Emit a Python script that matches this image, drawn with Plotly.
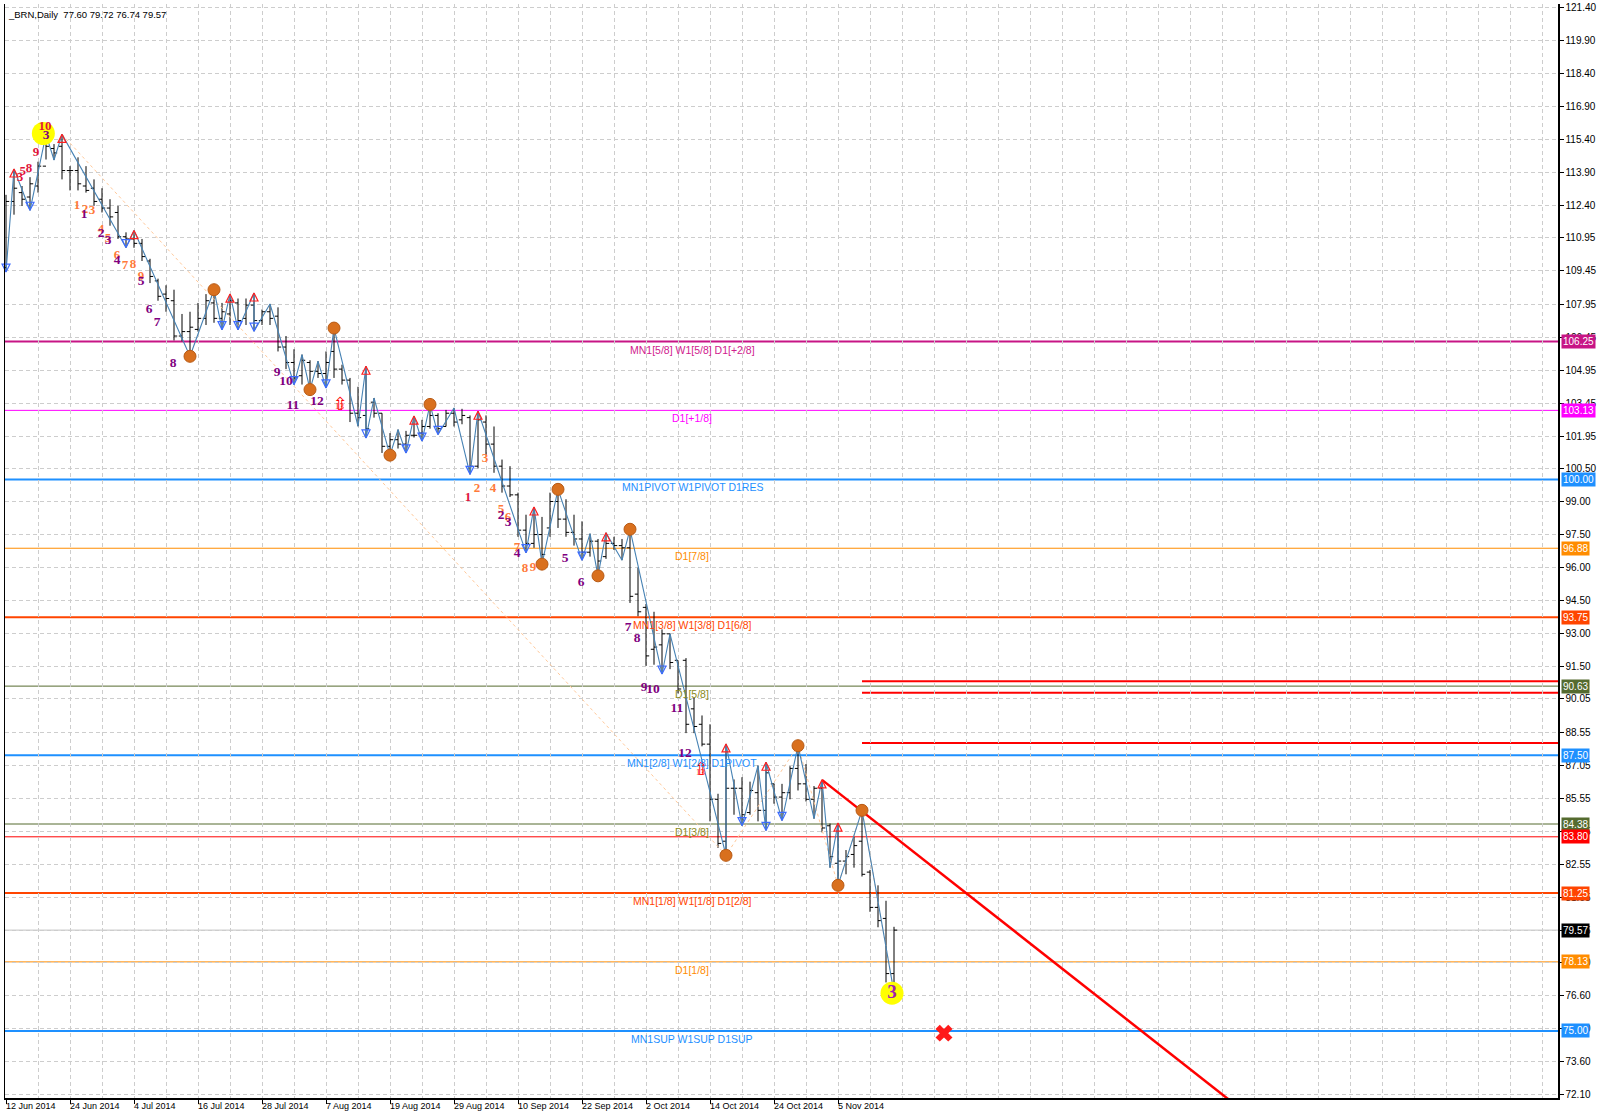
import plotly.graph_objects as go

# ---------------- data ----------------
opens = [109.6,112.6,113.0,112.8,113.3,114.2,115.0,115.1,114.0,114.0,
         113.3,113.2,112.7,112.3,112.1,111.0,110.9,110.7,109.9,109.0,
         108.4,108.1,106.5,106.7,106.8,107.3,108.0,107.3,107.5,108.0,
         107.3,107.9,107.2,107.6,107.4,106.0,105.3,104.7,105.3,104.9,
         104.8,105.8,105.0,104.5,103.0,102.9,103.5,103.0,101.5,101.8,
         101.6,102.0,102.1,102.4,102.9,102.4,103.0,102.7,102.8,100.6,
         102.6,101.6,100.6,99.7,99.3,97.7,97.1,97.5,97.8,99.0,
         98.2,97.6,97.3,96.7,97.2,96.5,97.1,97.0,96.9,94.8,
         94.2,92.3,92.5,93.0,91.8,91.8,89.6,88.9,88.0,85.5,
         83.6,86.0,86.0,84.9,85.8,85.0,86.2,85.6,85.8,86.9,
         86.2,85.5,86.0,84.3,82.6,82.7,83.0,83.6,82.2,80.6,
         80.1,77.60]
highs = [112.9,114.07,113.3,113.7,114.4,115.64,115.2,115.64,114.2,114.6,
         114.2,113.6,113.2,112.7,112.4,111.2,111.28,110.9,110.0,109.1,
         108.8,108.6,107.5,107.6,108.0,108.4,108.6,108.0,108.4,108.2,
         108.2,108.45,107.7,107.95,107.8,106.5,105.9,105.66,105.4,105.36,
         105.8,106.86,105.2,104.6,104.2,105.13,103.69,103.0,102.1,102.26,
         102.2,102.87,102.7,103.4,103.0,103.15,103.24,103.2,102.9,103.09,
         102.9,102.4,100.9,100.6,99.4,98.4,98.75,98.3,99.4,99.55,
         99.1,98.4,98.1,97.54,97.3,97.58,97.4,97.3,97.74,96.0,
         94.35,94.0,93.2,93.0,91.8,91.9,90.1,89.3,88.9,85.75,
         88.01,86.4,86.5,86.3,87.03,87.18,86.2,86.2,87.0,87.93,
         87.1,86.1,86.38,84.4,84.42,83.2,83.8,85.0,82.3,81.6,
         80.9,79.72]
lows = [109.4,112.0,112.4,112.2,113.0,114.5,114.48,113.6,113.1,113.1,
        113.0,112.4,112.1,111.5,110.9,110.51,110.5,109.9,108.9,108.1,
        107.6,106.3,106.26,105.58,106.7,107.0,107.1,106.79,107.0,106.79,
        107.0,106.72,107.0,107.0,105.8,105.0,104.3,104.3,104.07,104.6,
        104.15,104.6,104.3,102.6,102.41,101.88,102.8,101.2,101.1,101.4,
        101.2,101.9,101.74,102.3,102.04,102.4,102.4,102.5,100.23,100.5,
        101.1,100.3,99.4,99.2,97.4,96.68,96.9,96.16,97.4,97.8,
        97.4,97.0,96.34,96.5,95.63,96.4,96.8,96.34,94.4,93.8,
        91.55,91.6,91.18,91.4,90.3,88.5,88.5,87.9,84.5,83.3,
        82.96,84.8,84.31,84.8,84.5,84.09,85.3,84.54,85.5,85.9,
        85.4,84.62,84.0,82.4,81.6,82.1,82.4,82.0,80.4,79.7,
        77.2,76.74]
closes = [112.6,113.2,112.7,113.4,114.2,115.1,114.8,114.0,114.0,113.4,
          113.1,112.6,112.3,111.9,111.0,110.9,110.7,110.1,109.2,108.3,
          108.2,106.5,106.7,106.9,107.3,108.1,107.3,107.6,108.1,107.2,
          107.9,107.2,107.6,107.3,106.0,105.3,104.6,105.4,104.9,104.8,
          105.3,105.0,104.5,103.0,102.8,102.3,103.0,101.5,101.8,101.6,
          102.0,102.0,102.4,102.9,102.3,103.0,102.6,102.9,100.6,102.7,
          101.6,100.6,99.7,99.3,97.7,97.1,97.5,96.6,99.0,98.2,
          97.6,97.3,96.7,97.2,96.3,97.1,97.0,96.9,94.7,94.0,
          92.0,92.4,93.0,91.7,90.5,88.9,88.8,88.0,85.5,83.5,
          86.0,86.0,84.8,85.9,85.0,86.7,85.6,85.8,86.9,86.2,
          85.5,86.0,84.2,82.9,82.7,82.9,83.4,82.1,80.6,80.0,
          77.6,79.57]
bar_idx = list(range(len(opens)))

date_bars = [0, 8, 16, 24, 32, 40, 48, 56, 64, 72, 80, 88, 96, 104]
date_labels = ["12 Jun 2014", "24 Jun 2014", "4 Jul 2014", "16 Jul 2014", "28 Jul 2014",
               "7 Aug 2014", "19 Aug 2014", "29 Aug 2014", "10 Sep 2014", "22 Sep 2014",
               "2 Oct 2014", "14 Oct 2014", "24 Oct 2014", "5 Nov 2014"]

price_ticks = [121.40, 119.90, 118.40, 116.90, 115.40, 113.90, 112.40, 110.95, 109.45, 107.95,
               106.45, 104.95, 103.45, 101.95, 100.50, 99.00, 97.50, 96.00, 94.50, 93.00,
               91.50, 90.05, 88.55, 87.05, 85.55, 84.05, 82.55, 81.05, 79.55, 78.10,
               76.60, 75.10, 73.60, 72.10]

level_prices = [106.25, 103.13, 100.00, 96.88, 93.75, 90.63, 87.50, 84.38, 83.80, 81.25, 79.57, 78.13, 75.00]
level_names = ["MN1[5/8] W1[5/8] D1[+2/8]", "D1[+1/8]", "MN1PIVOT W1PIVOT D1RES", "D1[7/8]",
               "MN1[3/8] W1[3/8] D1[6/8]", "D1[5/8]", "MN1[2/8] W1[2/8] D1PIVOT", "D1[3/8]", "",
               "MN1[1/8] W1[1/8] D1[2/8]", "", "D1[1/8]", "MN1SUP W1SUP D1SUP"]

zz_bars = [0,1,3,5,6,7,15,16,23,26,27,28,29,31,31,33,36,37,38,39,40,41,44,45,45,46,48,49,50,51,52,53,54,56,58,59,
           65,66,67,69,72,73,74,75,77,78,82,83,90,90,92,94,95,95,97,99,101,102,103,104,104,107,111]
zz_prices = [109.4,114.07,112.2,115.64,114.48,115.64,110.51,111.28,105.58,108.6,106.79,108.4,106.79,108.45,106.72,
             107.95,104.3,105.66,104.07,105.36,104.15,106.86,102.41,105.13,101.88,103.69,101.1,102.26,101.2,102.87,
             101.74,103.4,102.04,103.24,100.23,103.09,96.68,98.75,96.16,99.55,96.34,97.54,95.63,97.58,96.34,97.74,
             91.18,93.0,82.96,88.01,84.31,87.03,84.09,87.18,84.54,87.93,84.62,86.38,82.4,84.42,81.6,85.0,76.74]

up_arrow_bars = [1, 7, 16, 28, 31, 45, 51, 59, 66, 75, 90, 95, 102, 104]
down_arrow_bars = [0, 3, 15, 27, 29, 31, 36, 40, 45, 50, 52, 54, 58, 65, 72, 82, 92, 95, 97]

swing_bars = [23, 26, 38, 41, 48, 53, 67, 69, 74, 78, 90, 99, 104, 107]
swing_kind = ["L", "H", "L", "H", "L", "H", "L", "H", "L", "H", "L", "H", "L", "H"]

major_bars = [7, 90, 99, 104, 107, 111]
major_kind = ["H", "L", "H", "L", "H", "L"]

trend_bars = [102, 160]
trend_prices = [86.38, 69.85]

res_bars_start = 107
res_prices = [90.85, 90.33, 88.05]

target_bar, target_price = 117.25, 74.9
yellow_bars = [4.67, 110.75]
yellow_prices = [115.68, 76.71]

red_counts = [(4.875, 115.99, "10"), (3.75, 114.81, "9"), (2.875, 114.09, "8"), (1.75, 113.68, "3"),
              (2.1, 113.95, "5"), (57.75, 99.16, "1")]
orange_counts = [(8.875, 112.41, "1"), (9.875, 112.23, "2"), (10.75, 112.19, "3"), (11.875, 111.33, "4"),
                 (12.75, 110.92, "5"), (13.875, 110.15, "6"), (14.875, 109.70, "7"), (15.875, 109.74, "8"),
                 (16.875, 109.2, "9"), (59.875, 100.92, "3"), (58.875, 99.56, "2"), (60.875, 99.56, "4"),
                 (61.875, 98.61, "5"), (62.75, 98.25, "6"), (63.875, 96.89, "7"), (64.875, 95.94, "8"),
                 (65.875, 95.99, "9")]
purple_counts = [(5.0, 115.58, "3"), (9.75, 112.01, "1"), (11.875, 111.15, "2"), (12.75, 110.83, "3"),
                 (13.875, 109.92, "4"), (16.875, 108.97, "5"), (17.875, 107.71, "6"), (18.875, 107.12, "7"),
                 (20.875, 105.26, "8"), (33.875, 104.86, "9"), (35.0, 104.45, "10"), (35.875, 103.36, "11"),
                 (38.875, 103.54, "12"), (61.875, 98.34, "2"), (62.75, 98.02, "3"), (63.875, 96.62, "4"),
                 (69.875, 96.4, "5"), (71.875, 95.31, "6"), (77.75, 93.27, "7"), (78.875, 92.78, "8"),
                 (79.75, 90.56, "9"), (80.875, 90.47, "10"), (83.875, 89.61, "11"), (84.875, 87.57, "12")]
big_counts = [(110.75, 76.71, "3")]
arrow13 = [(41.75, 103.45), (86.875, 86.89)]

header = "_BRN,Daily  77.60 79.72 76.74 79.57"

# ---------------- styles ----------------
level_style = {
    106.25: ("#C71585", 2, "#D0208E"),
    103.13: ("#FF00FF", 1, "#FF00FF"),
    100.00: ("#1E90FF", 2, "#1E90FF"),
    96.88: ("#FF8C00", 1, "#FF8C00"),
    93.75: ("#FF4500", 2, "#FF4500"),
    90.63: ("#556B2F", 1, "#8A8A20"),
    87.50: ("#1E90FF", 2, "#1E90FF"),
    84.38: ("#556B2F", 1, "#8A8A20"),
    83.80: ("#FF0000", 1, "#FF0000"),
    81.25: ("#FF4500", 2, "#FF4500"),
    79.57: ("#C0C0C0", 1, "#000000"),
    78.13: ("#FF8C00", 1, "#FF8C00"),
    75.00: ("#1E90FF", 2, "#1E90FF"),
}
tag_bg = {79.57: "#000000"}

X0, X1 = -0.125, 194.0
Y0, Y1 = 71.96, 121.55
GRID = "#CDCDCD"

fig = go.Figure()

shapes = []
for p in level_prices:
    col, w, _ = level_style[p]
    shapes.append(dict(type="line", xref="paper", x0=0, x1=1, yref="y", y0=p, y1=p,
                       line=dict(color=col, width=w), layer="below"))
for p in res_prices:
    shapes.append(dict(type="line", xref="x", x0=res_bars_start, x1=X1, yref="y", y0=p, y1=p,
                       line=dict(color="#FF0000", width=2), layer="below"))

# faint dotted higher-degree swing line
mp = [highs[b] if k == "H" else lows[b] for b, k in zip(major_bars, major_kind)]
fig.add_trace(go.Scatter(x=major_bars, y=mp, mode="lines",
                         line=dict(color="#FFC99A", width=1, dash="dot"), hoverinfo="skip"))

# OHLC bars
fig.add_trace(go.Ohlc(x=bar_idx, open=opens, high=highs, low=lows, close=closes,
                      increasing=dict(line=dict(color="black", width=1)),
                      decreasing=dict(line=dict(color="black", width=1)),
                      tickwidth=0.4, hoverinfo="skip"))

# zigzag
fig.add_trace(go.Scatter(x=zz_bars, y=zz_prices, mode="lines",
                         line=dict(color="#4682B4", width=1.1), hoverinfo="skip"))

# red trend line
fig.add_trace(go.Scatter(x=trend_bars, y=trend_prices, mode="lines",
                         line=dict(color="#FF0000", width=2.5), hoverinfo="skip"))

# arrows
fig.add_trace(go.Scatter(x=up_arrow_bars, y=[highs[b] for b in up_arrow_bars], mode="markers",
                         marker=dict(symbol="arrow-up-open", size=8, color="#FF2020",
                                     line=dict(color="#FF2020", width=1.2)),
                         cliponaxis=False, hoverinfo="skip"))
fig.add_trace(go.Scatter(x=down_arrow_bars, y=[lows[b] for b in down_arrow_bars], mode="markers",
                         marker=dict(symbol="arrow-down-open", size=8, color="#3D6BFF",
                                     line=dict(color="#3D6BFF", width=1.2)),
                         cliponaxis=False, hoverinfo="skip"))

# orange swing circles
sp = [highs[b] if k == "H" else lows[b] for b, k in zip(swing_bars, swing_kind)]
fig.add_trace(go.Scatter(x=swing_bars, y=sp, mode="markers",
                         marker=dict(symbol="circle", size=12, color="#D9701E",
                                     line=dict(color="#B85A14", width=1)),
                         hoverinfo="skip"))

# yellow circles
fig.add_trace(go.Scatter(x=yellow_bars, y=yellow_prices, mode="markers",
                         marker=dict(symbol="circle", size=23, color="#FFFF00", line=dict(width=0)),
                         hoverinfo="skip"))

# red X target
fig.add_trace(go.Scatter(x=[target_bar], y=[target_price], mode="markers",
                         marker=dict(symbol="x", size=15, color="#FF1A1A", line=dict(width=0)),
                         hoverinfo="skip"))


def add_counts(items, color, size):
    fig.add_trace(go.Scatter(x=[a[0] for a in items], y=[a[1] for a in items],
                             text=[a[2] for a in items], mode="text",
                             textfont=dict(family="Liberation Serif", size=size, color=color, weight="bold"),
                             cliponaxis=False, hoverinfo="skip"))


add_counts(orange_counts, "#FF7A3A", 13)
add_counts(purple_counts, "#800080", 13.5)
add_counts(red_counts, "#E0143C", 13)
add_counts(big_counts, "#A020B0", 19)

annotations = []
for bx, py in arrow13:
    annotations.append(dict(x=bx, y=py, xref="x", yref="y", text="⇧", showarrow=False,
                            font=dict(family="DejaVu Sans", size=18, color="#FF0000")))
    annotations.append(dict(x=bx, y=py, xref="x", yref="y", text="13", showarrow=False, yshift=-3,
                            font=dict(family="Liberation Serif", size=9, color="#FF0000")))

for p, name in zip(level_prices, level_names):
    if not name:
        continue
    _, _, tcol = level_style[p]
    annotations.append(dict(x=85.75, y=p, xref="x", yref="y", text=name, showarrow=False,
                            xanchor="center", yanchor="top", yshift=0,
                            font=dict(family="Liberation Sans", size=10.5, color=tcol)))

for p in level_prices:
    col, _, _ = level_style[p]
    bg = tag_bg.get(p, col)
    annotations.append(dict(x=1, y=p, xref="paper", yref="y", text=f"{p:.2f}", showarrow=False,
                            xanchor="left", xshift=3, bgcolor=bg, borderpad=1,
                            font=dict(family="Liberation Sans", size=10, color="white")))

for b, lab in zip(date_bars, date_labels):
    annotations.append(dict(x=b, y=0, xref="x", yref="paper", text=lab, showarrow=False,
                            xanchor="left", yanchor="top", xshift=-2, yshift=-1,
                            font=dict(family="Liberation Sans", size=9, color="black")))

annotations.append(dict(x=0, y=1, xref="paper", yref="paper", text=header, showarrow=False,
                        xanchor="left", yanchor="top", xshift=1, yshift=-3,
                        font=dict(family="Liberation Sans", size=9.5, color="black")))

fig.update_layout(
    width=1600, height=1118,
    margin=dict(l=5, r=42, t=2, b=20),
    paper_bgcolor="white", plot_bgcolor="white",
    showlegend=False, hovermode=False,
    font=dict(family="Liberation Sans", size=10, color="black"),
    shapes=shapes, annotations=annotations,
    xaxis=dict(range=[X0, X1], tickvals=date_bars, ticktext=[""] * len(date_bars),
               showgrid=True, gridcolor=GRID, griddash="4px,3px", gridwidth=1,
               minor=dict(dtick=4, tick0=0, showgrid=True, gridcolor=GRID, griddash="4px,3px", ticks=""),
               ticks="outside", ticklen=4, tickcolor="black",
               showline=True, linecolor="black", linewidth=1.5, mirror=False,
               zeroline=False, rangeslider=dict(visible=False), fixedrange=True),
    yaxis=dict(range=[Y0, Y1], side="right", tickvals=price_ticks,
               ticktext=[f"{v:.2f}" for v in price_ticks],
               showgrid=True, gridcolor=GRID, griddash="4px,3px", gridwidth=1,
               ticks="outside", ticklen=4, tickcolor="black", ticklabeloverflow="allow",
               tickfont=dict(family="Liberation Sans", size=10, color="black"),
               showline=True, linecolor="black", linewidth=1.5, mirror=True,
               zeroline=False, fixedrange=True),
)

fig.write_html("out.html", config={"displayModeBar": False, "staticPlot": True},
               post_script="document.body.style.margin='0';document.body.style.overflow='hidden';")
